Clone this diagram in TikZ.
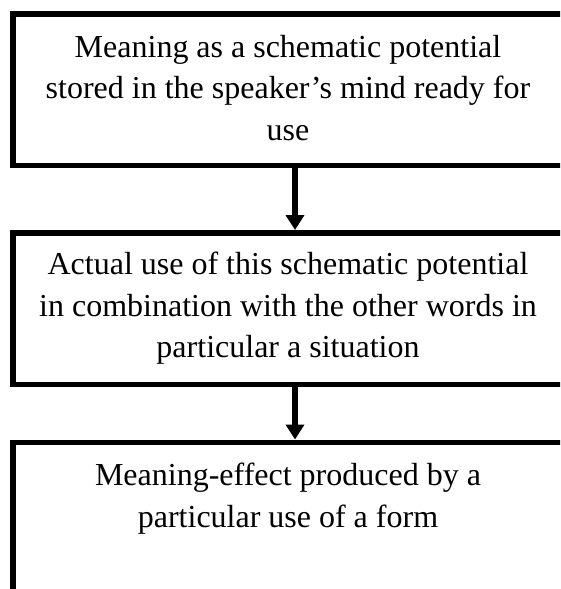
\documentclass[tikz,border=0pt]{standalone}
\usepackage{fontspec}
\setmainfont{Liberation Serif}
\usetikzlibrary{arrows.meta}
\tikzset{
  boxnode/.style={draw, line width=5.5pt, minimum width=562pt, minimum height=151.5pt, inner sep=0pt, outer sep=0pt},
  txt/.style={align=center, anchor=north, inner sep=0pt, font=\fontsize{32}{41.5}\selectfont},
  flowarrow/.style={line width=5.5pt, -{Triangle[width=18pt,length=15pt]}}
}
\begin{document}
\begin{tikzpicture}[x=1pt,y=1pt]
\useasboundingbox (0,0) rectangle (560,-589);
\clip (0,0) rectangle (560,-589);
\fill[white] (0,0) rectangle (560,-589);
\node[boxnode] (b1) at (294,-89.75) {};
\node[boxnode] (b2) at (294,-308.75) {};
\node[boxnode] (b3) at (294,-518.25) {};
\node[txt] (t1) at (288,-35) {Meaning as a schematic potential\\stored in the speaker’s mind ready for\\use};
\node[txt] (t2) at (288,-252) {Actual use of this schematic potential\\in combination with the other words in\\particular a situation};
\node[txt] (t3) at (288,-463) {Meaning-effect produced by a\\particular use of a form};
\coordinate (ax) at (295,0);
\draw[flowarrow] (b1.south -| ax) -- ([yshift=3pt]b2.north -| ax);
\draw[flowarrow] (b2.south -| ax) -- ([yshift=3pt]b3.north -| ax);
\end{tikzpicture}
\end{document}
